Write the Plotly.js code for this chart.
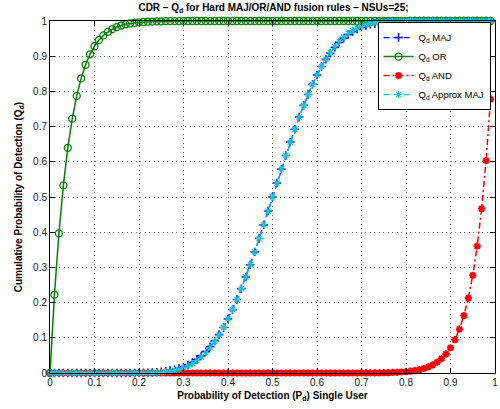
<!DOCTYPE html>
<html>
<head>
<meta charset="utf-8">
<script src="https://cdn.plot.ly/plotly-3.0.1.min.js"></script>
<style>html,body{margin:0;padding:0;background:#fff;}#chart{width:500px;height:409px;}</style>
</head>
<body>
<div id="chart"></div>
<script>
// Single-user probability of detection Pd (x)
const pd = [0,0.01,0.02,0.03,0.04,0.05,0.06,0.07,0.08,0.09,
0.10,0.11,0.12,0.13,0.14,0.15,0.16,0.17,0.18,0.19,
0.20,0.21,0.22,0.23,0.24,0.25,0.26,0.27,0.28,0.29,
0.30,0.31,0.32,0.33,0.34,0.35,0.36,0.37,0.38,0.39,
0.40,0.41,0.42,0.43,0.44,0.45,0.46,0.47,0.48,0.49,
0.50,0.51,0.52,0.53,0.54,0.55,0.56,0.57,0.58,0.59,
0.60,0.61,0.62,0.63,0.64,0.65,0.66,0.67,0.68,0.69,
0.70,0.71,0.72,0.73,0.74,0.75,0.76,0.77,0.78,0.79,
0.80,0.81,0.82,0.83,0.84,0.85,0.86,0.87,0.88,0.89,
0.90,0.91,0.92,0.93,0.94,0.95,0.96,0.97,0.98,0.99];

// Qd MAJ
const qdMaj = [0,0,0,0,0,0,0,0,0,0,
0,0,0,0,0,0,0,0,0,0,
0.0004,0.0006,0.0010,0.0016,0.0024,0.0034,0.0049,0.0069,0.0095,0.0130,
0.0175,0.0231,0.0300,0.0385,0.0487,0.0607,0.0747,0.0907,0.1089,0.1293,
0.1538,0.1801,0.2089,0.2398,0.2728,0.3077,0.3441,0.3819,0.4207,0.4602,
0.5000,0.5398,0.5793,0.6181,0.6559,0.6923,0.7272,0.7602,0.7911,0.8199,
0.8462,0.8707,0.8911,0.9093,0.9253,0.9393,0.9513,0.9615,0.9700,0.9769,
0.9825,0.9870,0.9905,0.9931,0.9951,0.9966,0.9976,0.9984,0.9990,0.9994,
0.9996,1,1,1,1,1,1,1,1,1,
1,1,1,1,1,1,1,1,1,1];

// Qd OR
const qdOr = [0,0.2222,0.3965,0.5330,0.6396,0.7226,0.7871,0.8370,0.8756,0.9054,
0.9282,0.9457,0.9591,0.9692,0.9770,0.9828,0.9872,0.9905,0.9930,0.9949,
0.9962,0.9972,0.9980,0.9985,0.9990,0.9992,0.9995,0.9996,0.9997,0.9998,
0.9999,1,1,1,1,1,1,1,1,1,
1,1,1,1,1,1,1,1,1,1,
1,1,1,1,1,1,1,1,1,1,
1,1,1,1,1,1,1,1,1,1,
1,1,1,1,1,1,1,1,1,1,
1,1,1,1,1,1,1,1,1,1,
1,1,1,1,1,1,1,1,1,1];

// Qd AND
const qdAnd = [0,0,0,0,0,0,0,0,0,0,
0,0,0,0,0,0,0,0,0,0,
0,0,0,0,0,0,0,0,0,0,
0,0,0,0,0,0,0,0,0,0,
0,0,0,0,0,0,0,0,0,0,
0,0,0,0,0,0,0,0,0,0,
0,0,0,0,0,0,0,0,0,0,
0.0001,0.0002,0.0003,0.0004,0.0005,0.0008,0.0010,0.0015,0.0020,0.0028,
0.0038,0.0052,0.0070,0.0095,0.0128,0.0172,0.0230,0.0308,0.0409,0.0543,
0.0718,0.0946,0.1244,0.1630,0.2129,0.2774,0.3604,0.4670,0.6035,0.7778];

// Qd Approx MAJ
const qdApprox = [0,0,0,0,0,0,0,0,0,0,
0,0,0,0,0,0,0,0,0,0,
0.0001,0.0002,0.0004,0.0007,0.0012,0.0019,0.0031,0.0048,0.0071,0.0103,
0.0145,0.0200,0.0268,0.0353,0.0456,0.0579,0.0724,0.0891,0.1082,0.1297,
0.1537,0.1801,0.2089,0.2398,0.2728,0.3077,0.3441,0.3819,0.4207,0.4602,
0.5000,0.5398,0.5793,0.6181,0.6559,0.6923,0.7272,0.7602,0.7911,0.8199,
0.8463,0.8703,0.8918,0.9109,0.9276,0.9421,0.9544,0.9647,0.9732,0.9800,
0.9855,0.9897,0.9929,0.9952,0.9969,0.9981,0.9988,0.9993,0.9996,0.9998,
0.9999,1,1,1,1,1,1,1,1,1,
1,1,1,1,1,1,1,1,1,1];

// Tick labels (both axes)
const tickValues = [0,0.1,0.2,0.3,0.4,0.5,0.6,0.7,0.8,0.9,1];
const tickLabels = ['0','0.1','0.2','0.3','0.4','0.5','0.6','0.7','0.8','0.9','1'];

const names = ['Q<sub>d</sub> MAJ','Q<sub>d</sub> OR','Q<sub>d</sub> AND','Q<sub>d</sub> Approx MAJ'];

const traces = [
  {x: pd, y: qdMaj, name: names[0], mode: 'lines+markers', cliponaxis: false,
   line: {color: '#0000ff', width: 1.3, dash: '6px,4px'},
   marker: {symbol: 'cross-thin-open', size: 6, color: '#0000ff', line: {color: '#0000ff', width: 1.6}}},
  {x: pd, y: qdOr, name: names[1], mode: 'lines+markers', cliponaxis: false,
   line: {color: '#008000', width: 1.5},
   marker: {symbol: 'circle-open', size: 7, color: '#008000', line: {color: '#008000', width: 1.3}}},
  {x: pd, y: qdAnd, name: names[2], mode: 'lines+markers', cliponaxis: false,
   line: {color: '#ff0000', width: 1.5, dash: '6px,3px,2px,3px'},
   marker: {symbol: 'asterisk-open', size: 6, color: '#ff0000', line: {color: '#ff0000', width: 2}}},
  {x: pd, y: qdApprox, name: names[3], mode: 'lines+markers', cliponaxis: false,
   line: {color: '#00c0c0', width: 1.3, dash: '6px,4px'},
   marker: {symbol: 'asterisk-open', size: 6, color: '#1cc4d0', line: {color: '#1cc4d0', width: 1.1}}}
];

const axisCommon = {
  range: [0, 1], tickmode: 'array', tickvals: tickValues, ticktext: tickLabels,
  showgrid: true, gridcolor: '#7a7a7a', griddash: '1px,3.5px', gridwidth: 1,
  zeroline: false, showline: true, linecolor: '#000', linewidth: 1,
  mirror: 'ticks', ticks: 'inside', ticklen: 5, tickcolor: '#000',
  ticklabeloverflow: 'allow',
  tickfont: {family: 'Liberation Sans, Arial, sans-serif', size: 10, color: '#222'}
};

const layout = {
  width: 500, height: 409,
  margin: {l: 50, r: 5, t: 21, b: 36},
  paper_bgcolor: '#fff', plot_bgcolor: '#fff',
  font: {family: 'Liberation Sans, Arial, sans-serif', size: 10, color: '#000'},
  title: {text: '<b>CDR – Q<sub>d</sub> for Hard MAJ/OR/AND fusion rules – NSUs=25;</b>',
          x: 0.547, xanchor: 'center', y: 0.982, yanchor: 'middle', yref: 'container',
          font: {family: 'Liberation Sans, Arial, sans-serif', size: 10, color: '#000'}},
  xaxis: Object.assign({}, axisCommon, {
    title: {text: '<b>Probability of Detection (P<sub>d</sub>) Single User</b>', standoff: 4,
            font: {family: 'Liberation Sans, Arial, sans-serif', size: 10, color: '#000'}}
  }),
  yaxis: Object.assign({}, axisCommon, {
    title: {text: '<b>Cumulative Probability of Detection (Q<sub>d</sub>)</b>', standoff: 8,
            font: {family: 'Liberation Sans, Arial, sans-serif', size: 10, color: '#000'}}
  }),
  showlegend: true,
  legend: {x: 0.99, xanchor: 'right', y: 0.997, yanchor: 'top',
           bgcolor: '#fff', bordercolor: '#000', borderwidth: 1,
           font: {family: 'Liberation Sans, Arial, sans-serif', size: 9.5, color: '#000'},
           itemwidth: 30, tracegroupgap: 0}
};

Plotly.newPlot('chart', traces, layout, {displayModeBar: false, staticPlot: true});
</script>
</body>
</html>
